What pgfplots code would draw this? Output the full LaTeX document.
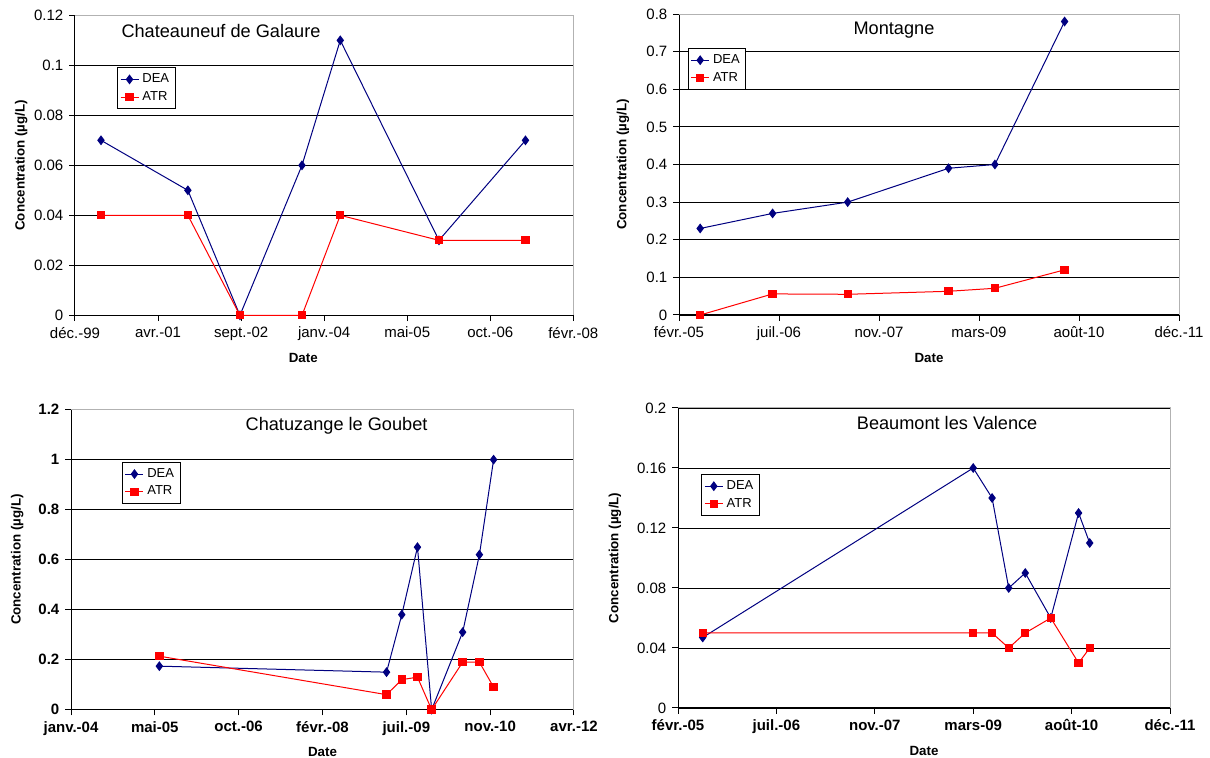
\documentclass[border=0pt]{standalone}
\usepackage{fontspec}
\setmainfont{Liberation Sans}
\usepackage{pgfplots}
\usepackage{pgfplotstable}
\pgfplotsset{compat=1.18}
\definecolor{deac}{RGB}{0,0,128}
\definecolor{atrc}{RGB}{255,0,0}

\pgfplotstableread{
x dea atr
0.313 0.07 0.04
1.359 0.05 0.04
1.986 0 0
2.733 0.06 0
3.194 0.11 0.04
4.382 0.03 0.03
5.424 0.07 0.03
}\tA
\pgfplotstableread{
x dea atr
0.212 0.23 0
0.936 0.27 0.056
1.687 0.30 0.055
2.696 0.39 0.063
3.159 0.40 0.071
3.856 0.78 0.12
}\tB
\pgfplotstableread{
x dea atr
1.054 0.174 0.214
3.764 0.15 0.06
3.946 0.38 0.12
4.133 0.65 0.13
4.302 0 0
4.672 0.31 0.19
4.872 0.62 0.19
5.041 1.0 0.09
}\tC
\pgfplotstableread{
x dea atr
0.251 0.047 0.05
3.000 0.16 0.05
3.192 0.14 0.05
3.361 0.08 0.04
3.529 0.09 0.05
3.788 0.06 0.06
4.071 0.13 0.03
4.184 0.11 0.04
}\tD

\pgfplotsset{
  panel/.style={
    scale only axis,
    xmin=0, xmax=6, xtick={0,...,6},
    axis x line*=bottom, axis y line*=left,
    axis line style={-, black, line width=0.6pt},
    tick align=outside,
    tick style={black, line width=0.6pt},
    major tick length=3.5pt,
    ymajorgrids,
    grid style={black, line width=0.5pt},
    scaled y ticks=false,
    /pgf/number format/assume math mode=true,
    ticklabel style={font=\fontsize{9}{10}\selectfont},
    label style={font=\bfseries\fontsize{8}{9}\selectfont},
    xlabel={Date},
    ylabel={Concentration (µg/L)},
    legend style={draw=black, line width=0.6pt, font=\fontsize{7.8}{9}\selectfont,
      anchor=north west, inner sep=1.6pt, row sep=-0.3pt, legend cell align=left,
      /tikz/every even column/.append style={column sep=1pt}},
    legend image code/.code={\draw[mark repeat=2,mark phase=2,##1] plot coordinates {(0cm,0cm) (0.19cm,0cm) (0.38cm,0cm)};},
    clip=false,
    after end axis/.code={\draw[gray!60, line width=0.6pt] (rel axis cs:0,1) -- (rel axis cs:1,1) -- (rel axis cs:1,0);},
  },
  deastyle/.style={color=deac, line width=0.6pt, mark=diamond*, mark size=2.5pt, mark options={solid, fill=deac}},
  atrstyle/.style={color=atrc, line width=0.6pt, mark=square*, mark size=2.2pt, mark options={solid, fill=atrc}},
}

\begin{document}
\begin{tikzpicture}
\path[use as bounding box] (0,0) rectangle (726pt,454.8pt);

% Panel 1
\begin{axis}[panel,
  at={(45pt,265.6pt)}, anchor=south west,
  width=299pt, height=180pt,
  ymin=0, ymax=0.12, ytick={0,0.02,0.04,0.06,0.08,0.1,0.12},
  yticklabels={0,0.02,0.04,0.06,0.08,0.1,0.12},
  xticklabels={déc.-99,avr.-01,sept.-02,janv.-04,mai-05,oct.-06,févr.-08},
  xlabel style={at={(axis description cs:0.458,-0.143)}, anchor=center},
  ylabel style={at={(axis description cs:-0.108,0.5)}, anchor=center},
  legend style={at={(axis description cs:0.084,0.827)}},
]
\addplot[deastyle] table[x=x,y=dea]{\tA};
\addplot[atrstyle] table[x=x,y=atr]{\tA};
\legend{DEA,ATR}
\node[font=\fontsize{10.9}{12}\selectfont] at (axis description cs:0.293,0.947) {Chateauneuf de Galaure};
\end{axis}

% Panel 2
\begin{axis}[panel,
  at={(407.4pt,265.8pt)}, anchor=south west,
  width=300pt, height=180.6pt,
  ymin=0, ymax=0.8, ytick={0,0.1,0.2,0.3,0.4,0.5,0.6,0.7,0.8},
  yticklabels={0,0.1,0.2,0.3,0.4,0.5,0.6,0.7,0.8},
  xticklabels={févr.-05,juil.-06,nov.-07,mars-09,août-10,déc.-11},
  xtick={0,...,5}, xmax=5,
  xlabel style={at={(axis description cs:0.5,-0.143)}, anchor=center},
  ylabel style={at={(axis description cs:-0.112,0.5)}, anchor=center},
  legend style={at={(axis description cs:0.017,0.887)}},
]
\addplot[deastyle] table[x=x,y=dea]{\tB};
\addplot[atrstyle] table[x=x,y=atr]{\tB};
\legend{DEA,ATR}
\node[font=\fontsize{10.9}{12}\selectfont] at (axis description cs:0.43,0.947) {Montagne};
\end{axis}

% Panel 3
\begin{axis}[panel,
  at={(42.6pt,29pt)}, anchor=south west,
  width=301.8pt, height=180pt,
  ymin=0, ymax=1.2, ytick={0,0.2,0.4,0.6,0.8,1,1.2},
  yticklabels={0,0.2,0.4,0.6,0.8,1,1.2},
  xticklabels={janv.-04,mai-05,oct.-06,févr.-08,juil.-09,nov.-10,avr.-12},
  ticklabel style={font=\bfseries\fontsize{9}{10}\selectfont},
  xlabel style={at={(axis description cs:0.5,-0.14)}, anchor=center},
  ylabel style={at={(axis description cs:-0.107,0.5)}, anchor=center},
  legend style={at={(axis description cs:0.101,0.826)}},
]
\addplot[deastyle] table[x=x,y=dea]{\tC};
\addplot[atrstyle] table[x=x,y=atr]{\tC};
\legend{DEA,ATR}
\node[font=\fontsize{10.9}{12}\selectfont] at (axis description cs:0.528,0.946) {Chatuzange le Goubet};
\end{axis}

% Panel 4
\begin{axis}[panel,
  at={(406.8pt,30pt)}, anchor=south west,
  width=295.2pt, height=180pt,
  ymin=0, ymax=0.2, ytick={0,0.04,0.08,0.12,0.16,0.2},
  yticklabels={0,0.04,0.08,0.12,0.16,0.2},
  xticklabels={févr.-05,juil.-06,nov.-07,mars-09,août-10,déc.-11},
  xtick={0,...,5}, xmax=5,
  xticklabel style={font=\bfseries\fontsize{9}{10}\selectfont},
  xlabel style={at={(axis description cs:0.5,-0.143)}, anchor=center},
  ylabel style={at={(axis description cs:-0.128,0.5)}, anchor=center},
  legend style={at={(axis description cs:0.047,0.78)}},
]
\addplot[deastyle] table[x=x,y=dea]{\tD};
\addplot[atrstyle] table[x=x,y=atr]{\tD};
\legend{DEA,ATR}
\node[font=\fontsize{10.9}{12}\selectfont] at (axis description cs:0.547,0.95) {Beaumont les Valence};
\end{axis}
\end{tikzpicture}
\end{document}
